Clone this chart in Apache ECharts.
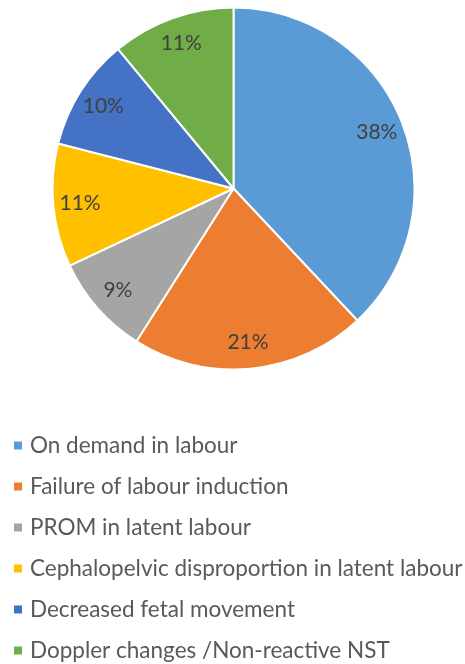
<!DOCTYPE html>
<html><head><meta charset="utf-8">
<script src="https://cdn.jsdelivr.net/npm/echarts@6/dist/echarts.min.js"></script>
<style>html,body{margin:0;padding:0;background:#fff}#c{width:465px;height:664px}</style>
</head><body><div id="c"></div>
<script>
const categories = ["On demand in labour","Failure of labour induction","PROM in latent labour","Cephalopelvic disproportion in latent labour","Decreased fetal movement","Doppler changes /Non-reactive NST"];
const values = [38, 21, 9, 11, 10, 11];
const colors = ["#5B9BD5","#ED7D31","#A5A5A5","#FFC000","#4472C4","#70AD47"];
const FONT = "Lato";
const chart = echarts.init(document.getElementById('c'));
const data = categories.map((n,i)=>({name:n,value:values[i],itemStyle:{color:colors[i]}}));
const center = [233.5, 188.5];
const R = 181;
chart.setOption({
  animation:false,
  legend:{
    orient:'vertical', left:12, top:434, height:240, width:460,
    padding:0,
    itemWidth:10, itemHeight:10, itemGap:18,
    icon:'rect',
    data: categories.map((n,i)=>({name:n,itemStyle:{color:colors[i]}})),
    textStyle:{fontFamily:FONT,fontSize:22.5,color:'#595959',lineHeight:22,padding:[0,0,0,2]},
    selectedMode:false
  },
  series:[
    {type:'pie',center:center,radius:[0,R],startAngle:90,clockwise:true,
     data:data,label:{show:false},labelLine:{show:false},
     itemStyle:{borderColor:'#fff',borderWidth:2},emphasis:{disabled:true},silent:true},
    {type:'pie',center:center,radius:[R*0.67,R],startAngle:90,clockwise:true,
     data:categories.map((n,i)=>({name:n,value:values[i],itemStyle:{color:'rgba(0,0,0,0)'}})),
     itemStyle:{borderWidth:0},
     label:{show:true,position:'inside',formatter:'{c}%',fontFamily:FONT,fontSize:21,color:'#404040'},
     labelLine:{show:false},emphasis:{disabled:true},silent:true}
  ]
});
</script></body></html>
